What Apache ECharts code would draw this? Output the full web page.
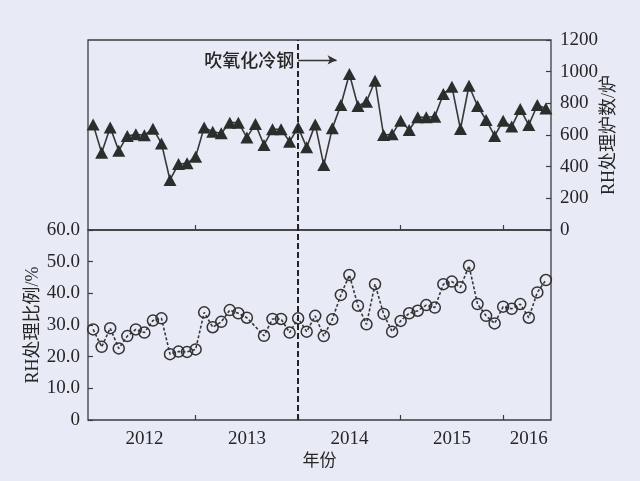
<!DOCTYPE html>
<html>
<head>
<meta charset="utf-8">
<script src="https://cdn.jsdelivr.net/npm/echarts@6/dist/echarts.min.js"></script>
<style>
  html, body { margin: 0; padding: 0; background: #e8eaf5; }
  #chart { width: 640px; height: 481px; }
</style>
</head>
<body>
<div id="chart"></div>
<script>
// Monthly RH heats (top) and RH treatment ratio (bottom), Jan 2012 – Jun 2016
const firstYear = 2012;
const yearLabels = ['2012', '2013', '2014', '2015', '2016'];
const rhHeats = [
  667, 488, 648, 501, 594, 604, 598, 640, 547, 316,
  417, 421, 463, 648, 621, 611, 678, 678, 585, 669,
  537, 636, 636, 558, 648, 522, 667, 410, 642, 789,
  985, 783, 810, 943, 600, 604, 690, 632, 712, 712,
  716, 859, 905, 638, 911, 783, 695, 594, 690, 653,
  764, 663, 789, 768
];
// ratio for Aug 2013 has no recorded value
const rhRatio = [
  28.6, 23.1, 29.0, 22.6, 26.5, 28.6, 27.6, 31.4, 32.1, 20.8,
  21.6, 21.5, 22.3, 34.0, 29.3, 31.0, 34.7, 33.7, 32.3, null,
  26.6, 31.9, 31.9, 27.6, 32.1, 27.9, 32.9, 26.5, 31.8, 39.5,
  45.8, 36.1, 30.2, 42.9, 33.5, 27.9, 31.3, 33.7, 34.5, 36.3,
  35.5, 42.9, 43.7, 41.9, 48.7, 36.6, 32.9, 30.5, 35.8, 35.1,
  36.6, 32.3, 40.3, 44.2
];
// month index (0 = Jan 2012) where oxygen-blown cold steel began
const startMonth = 24;
const noteText = '吹氧化冷钢';

const serif = '"Liberation Serif", "Noto Sans CJK SC", serif';
const ink = '#262626';
const frame = '#3d3d3d';

const toPairs = arr => arr.map((v, i) => [i, v]);
const yearTicks = yearLabels.slice(1).map((_, k) => (k + 1) * 12);
const yearLabelPos = [6, 18, 30, 42, 51];

const tickStyle = { show: true, inside: true, length: 5, lineStyle: { color: frame, width: 1.2 } };

const xBase = {
  type: 'value', min: -0.6, max: 53.6,
  axisLine: { show: false, onZero: false },
  splitLine: { show: false },
  axisTick: Object.assign({ customValues: yearTicks }, tickStyle)
};

const chart = echarts.init(document.getElementById('chart'), null, { renderer: 'canvas' });
chart.setOption({
  backgroundColor: '#e8eaf5',
  animation: false,
  grid: [
    { left: 88, right: 89, top: 40, height: 190, show: true, borderColor: frame, borderWidth: 1.3, backgroundColor: 'transparent' },
    { left: 88, right: 89, top: 230, height: 190, show: true, borderColor: frame, borderWidth: 1.3, backgroundColor: 'transparent' }
  ],
  xAxis: [
    Object.assign({}, xBase, { gridIndex: 0, axisLabel: { show: false } }),
    Object.assign({}, xBase, {
      gridIndex: 1,
      name: '年份', nameLocation: 'middle', nameGap: 33, nameMoveOverlap: false,
      nameTextStyle: { fontFamily: serif, fontSize: 17, color: ink },
      axisLabel: {
        show: true, margin: 10, customValues: yearLabelPos,
        fontFamily: serif, fontSize: 19, color: ink,
        formatter: v => String(firstYear + Math.floor(v / 12))
      }
    })
  ],
  yAxis: [
    {
      gridIndex: 0, type: 'value', position: 'right', min: 0, max: 1200, interval: 200,
      axisLine: { show: false, onZero: false }, splitLine: { show: false },
      axisTick: tickStyle,
      axisLabel: { margin: 9, fontFamily: serif, fontSize: 19, color: ink, formatter: v => String(v) },
      name: 'RH处理炉数/炉', nameLocation: 'middle', nameRotate: 90, nameGap: 49, nameMoveOverlap: false,
      nameTextStyle: { fontFamily: serif, fontSize: 18, color: ink }
    },
    {
      gridIndex: 1, type: 'value', position: 'left', min: 0, max: 60, interval: 10,
      axisLine: { show: false, onZero: false }, splitLine: { show: false },
      axisTick: tickStyle,
      axisLabel: { margin: 8, fontFamily: serif, fontSize: 19, color: ink,
                   formatter: v => (v === 0 ? '0' : v.toFixed(1)) },
      name: 'RH处理比例/%', nameLocation: 'middle', nameRotate: 90, nameGap: 46, nameMoveOverlap: false,
      nameTextStyle: { fontFamily: serif, fontSize: 18, color: ink }
    }
  ],
  series: [
    {
      type: 'line', xAxisIndex: 0, yAxisIndex: 0,
      data: toPairs(rhHeats),
      symbol: 'triangle', symbolSize: [13, 12],
      itemStyle: { color: '#2a2f2d' },
      lineStyle: { color: '#383838', width: 1.6 },
      markLine: {
        silent: true, animation: false,
        data: [
          [
            { coord: [startMonth, 0], symbol: 'none', lineStyle: { type: [6, 3], width: 2, color: '#222' }, label: { show: false } },
            { coord: [startMonth, 1200], symbol: 'none' }
          ],
          [
            { coord: [startMonth, 1074], symbol: 'none',
              lineStyle: { type: 'solid', width: 1.3, color: '#333' },
              label: { show: true, position: 'start', distance: 4, formatter: noteText,
                       fontFamily: '"Noto Sans CJK SC", sans-serif', fontSize: 18, fontWeight: 500, color: ink } },
            { coord: [28.5, 1074], symbol: 'arrow', symbolSize: [7, 9] }
          ]
        ]
      }
    },
    {
      type: 'line', xAxisIndex: 1, yAxisIndex: 1,
      data: toPairs(rhRatio),
      connectNulls: true,
      symbol: 'circle', symbolSize: 11,
      itemStyle: { color: 'rgba(0,0,0,0)', borderColor: '#333', borderWidth: 1.5 },
      lineStyle: { color: '#383838', width: 1.6, type: [3, 2] },
      markLine: {
        silent: true, animation: false, symbol: 'none',
        label: { show: false },
        lineStyle: { type: [6, 3], width: 2, color: '#222' },
        data: [[{ coord: [startMonth, 0] }, { coord: [startMonth, 60] }]]
      }
    }
  ]
});
</script>
</body>
</html>
